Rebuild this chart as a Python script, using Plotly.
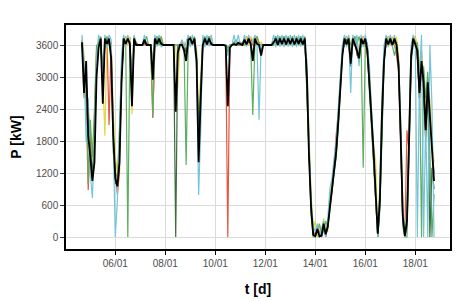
import pandas as pd
import plotly.graph_objects as go

# 2-hourly samples, 2016-01-04 16:00 .. 2016-01-18 18:00 (170 points)
t = pd.date_range("2016-01-04 16:00", periods=170, freq="2h")

# mean power (black)
p_mean = [
    3650, 2700, 3300, 1900,
    1500, 1050, 1400, 3000, 3550, 3720, 2500, 3720, 3620, 3720, 3350, 1900,
    1100, 950, 1400, 2900, 3720, 3620, 3720, 3620, 2450, 3720, 3600, 3600,
    3600, 3600, 3700, 3600, 3600, 3600, 2950, 3720, 3620, 3720, 3620, 3600,
    3600, 3600, 3600, 3600, 3600, 2350, 3450, 3600, 3600, 3500, 3300, 3700,
    3720, 3620, 3720, 3300, 1400, 2600, 3600, 3720, 3610, 3720, 3620, 3600,
    3600, 3600, 3600, 3600, 3600, 3580, 2450, 3550, 3600, 3620, 3600, 3640,
    3620, 3600, 3700, 3610, 3720, 3620, 3300, 3720, 3620, 3600, 3400, 3600,
    3600, 3600, 3600, 3600, 3650, 3720, 3600, 3720, 3620, 3720, 3610, 3720,
    3620, 3720, 3610, 3720, 3620, 3720, 3610, 3720, 3000, 1500, 550, 40,
    20, 150, 10, 30, 250, 50, 200, 550, 900, 1200, 1600, 2150,
    2750, 3400, 3720, 3610, 3720, 3250, 3720, 3620, 3500, 3350, 3720, 3620,
    3720, 3500, 2900, 2200, 1600, 800, 60, 700, 2300, 3300, 3720, 3610,
    3720, 3600, 3720, 3610, 3200, 1900, 400, 20, 300, 1800, 3400, 3720,
    3620, 3500, 2700, 3300, 2900, 2000, 2900, 2300, 1500, 1050,
]

# single turbines
p_cyan = [
    3790, 3300, 1780, 2600,
    1200, 730, 1800, 3300, 3790, 3580, 3000, 3790, 3560, 3790, 3700, 1500,
    0, 700, 1900, 3400, 3790, 3570, 3790, 3600, 3000, 3790, 3620, 3600,
    3600, 3600, 3790, 3600, 3600, 3600, 3300, 3790, 3570, 3790, 3560, 3600,
    3600, 3600, 3600, 3600, 3600, 3600, 3600, 3600, 3700, 3550, 3650, 3790,
    3560, 3790, 3580, 3200, 790, 2000, 3790, 3560, 3790, 3580, 3790, 3600,
    3600, 3600, 3600, 3600, 3600, 3600, 3400, 3600, 3600, 3790, 3600, 3790,
    3600, 3600, 3790, 3570, 3790, 3580, 3650, 3790, 3600, 2200, 3600, 3600,
    3600, 3600, 3600, 3600, 3790, 3560, 3790, 3570, 3790, 3560, 3790, 3570,
    3790, 3560, 3790, 3560, 3790, 3570, 3790, 3580, 3300, 1800, 700, 200,
    100, 250, 0, 150, 300, 0, 350, 900, 1100, 1450, 1800, 2400,
    3000, 3600, 3790, 3560, 3790, 2700, 3790, 3570, 3790, 3200, 3790, 3560,
    3790, 3600, 3200, 2400, 1800, 1000, 0, 1000, 2600, 3600, 3790, 3560,
    3790, 3570, 3790, 3560, 3300, 2200, 600, 0, 500, 2000, 3600, 3790,
    3570, 0, 3000, 3790, 0, 2200, 0, 3600, 2500, 0,
]

p_red = [
    3700, 3000, 2500, 880,
    1800, 1400, 2200, 3500, 3600, 3750, 2800, 3600, 3750, 2100, 3650, 2200,
    1300, 800, 1200, 3000, 3600, 3760, 3600, 3750, 2700, 3600, 3650, 3600,
    3600, 3600, 3600, 3650, 3600, 3600, 2230, 3600, 3760, 3600, 3750, 3600,
    3600, 3600, 3600, 3600, 3600, 3600, 3600, 3600, 3650, 3600, 3500, 3600,
    3760, 3600, 3750, 3400, 1800, 3000, 3600, 3750, 3600, 3760, 3600, 3600,
    3600, 3600, 3600, 3600, 3600, 3600, 0, 3600, 3600, 3650, 3600, 3650,
    3650, 3600, 3600, 3760, 3600, 3750, 3600, 3600, 3760, 3650, 3600, 3600,
    3600, 3600, 3600, 3600, 3600, 3760, 3600, 3750, 3600, 3760, 3600, 3750,
    3600, 3760, 3600, 3750, 3600, 3760, 3600, 3750, 2700, 1300, 500, 100,
    50, 200, 100, 0, 200, 100, 250, 600, 1000, 1300, 1900, 2300,
    2900, 3500, 3600, 3760, 3600, 3300, 3600, 3760, 3400, 3500, 3600, 3760,
    3600, 3400, 2800, 2100, 1500, 900, 100, 800, 2200, 3400, 3600, 3760,
    3600, 3750, 3600, 3400, 3100, 1700, 300, 50, 2000, 1600, 3300, 3600,
    3760, 3300, 2600, 3500, 2700, 1900, 3000, 2200, 1700, 1200,
]

p_yellow = [
    3750, 3400, 2800, 2400,
    2000, 1300, 2000, 3400, 3750, 3600, 3000, 1900, 3750, 3600, 3600, 2400,
    1500, 1200, 1700, 3100, 3600, 3750, 3600, 3750, 2300, 3600, 3600, 3600,
    3600, 3600, 3650, 3600, 3600, 3600, 3400, 3600, 3750, 3600, 3750, 3600,
    3600, 3600, 3600, 3600, 3600, 3600, 2800, 3600, 3600, 3650, 3600, 3650,
    3600, 3750, 3600, 3500, 2200, 3100, 3750, 3600, 3750, 3600, 3750, 3600,
    3600, 3600, 3600, 3600, 3600, 3600, 3500, 3600, 3600, 3600, 3650, 3600,
    3600, 3650, 3600, 3750, 3600, 3750, 3700, 3600, 3750, 3600, 3650, 3600,
    3600, 3600, 3600, 3600, 3650, 3600, 3750, 3600, 3750, 3600, 3750, 3600,
    3750, 3600, 3750, 3600, 3750, 3600, 3750, 3600, 3100, 1700, 800, 150,
    300, 0, 200, 100, 350, 150, 100, 800, 1000, 1400, 1700, 2200,
    2900, 3550, 3600, 3750, 3600, 3500, 3750, 3600, 3750, 3400, 3600, 3750,
    3600, 3550, 3000, 2300, 1700, 1400, 0, 900, 2500, 3500, 3600, 3750,
    3600, 3750, 3600, 3750, 3400, 2000, 500, 0, 400, 1900, 3500, 3600,
    3750, 3600, 3000, 3400, 3100, 2400, 2700, 2600, 1800, 1400,
]

p_green = [
    3600, 2600, 3200, 1000,
    2200, 1500, 2400, 3600, 3600, 3760, 3100, 3600, 3760, 3600, 3500, 1600,
    1200, 1100, 2000, 3200, 3760, 3600, 0, 3600, 2800, 3760, 3650, 3600,
    3600, 3600, 3650, 3760, 3600, 3600, 2250, 3600, 3760, 3600, 3760, 3600,
    3600, 3600, 3600, 3600, 3600, 3600, 3600, 3600, 3600, 3550, 1350, 3600,
    3760, 3600, 3760, 3450, 2000, 2800, 3600, 3760, 3600, 3760, 3600, 3600,
    3600, 3600, 3600, 3600, 3600, 3600, 3550, 3600, 3600, 3650, 3700, 3600,
    3600, 3650, 3600, 3600, 3760, 3600, 2290, 3600, 3760, 3600, 3600, 3600,
    3600, 3600, 3600, 3600, 3600, 3760, 3600, 3760, 3600, 3760, 3600, 3760,
    3600, 3760, 3600, 3760, 3600, 3760, 3600, 3760, 2600, 1200, 400, 0,
    0, 100, 250, 50, 100, 300, 150, 500, 800, 1100, 1500, 2000,
    2600, 3400, 3760, 3600, 3760, 3600, 3600, 3760, 3600, 3760, 3600, 1300,
    3600, 3650, 2700, 2000, 1400, 600, 0, 500, 2100, 3200, 3760, 3600,
    3760, 3600, 3400, 3600, 3300, 1800, 200, 0, 0, 1500, 3200, 3760,
    3600, 3650, 3200, 0, 3200, 2600, 3100, 1600, 0, 800,
]

p_darkgreen = [
    3650, 3100, 2900, 2200,
    1700, 1200, 1700, 3200, 3650, 3700, 2900, 3650, 3700, 3650, 3400, 2000,
    1000, 1000, 1600, 3000, 3650, 3650, 3700, 3650, 2600, 3650, 3600, 3600,
    3600, 3600, 3650, 3600, 3600, 3600, 3100, 3650, 3700, 3650, 3650, 3600,
    3600, 3600, 3600, 3600, 3600, 0, 3600, 3600, 3600, 3600, 3450, 3650,
    3650, 3650, 3650, 3350, 1700, 2700, 3650, 3650, 3650, 3700, 3650, 3600,
    3600, 3600, 3600, 3600, 3600, 3600, 3450, 3600, 3600, 3600, 3600, 3600,
    3600, 3600, 3650, 3650, 3650, 3650, 3400, 3650, 3650, 3600, 3500, 3600,
    3600, 3600, 3600, 3600, 3650, 3650, 3700, 3650, 3650, 3700, 3650, 3650,
    3650, 3700, 3650, 3650, 3700, 3650, 3650, 3650, 2800, 1400, 500, 50,
    0, 150, 50, 0, 200, 0, 200, 600, 850, 1200, 1500, 2100,
    2700, 3450, 3650, 3700, 3650, 3200, 3650, 3650, 3450, 3300, 3650, 3600,
    3650, 3450, 2850, 2150, 1550, 700, 0, 600, 2200, 3300, 3650, 3650,
    3650, 3600, 3650, 3600, 3150, 1850, 300, 0, 200, 1700, 3350, 3650,
    3650, 3400, 2600, 3200, 2700, 1800, 2800, 0, 1300, 900,
]

y_ticks = [0, 600, 1200, 1800, 2400, 3000, 3600]

fig = go.Figure()

series = [
    (p_red, "#E8553D"),
    (p_yellow, "#E3D63F"),
    (p_green, "#5DAE5E"),
    (p_darkgreen, "#3E6B3E"),
    (p_cyan, "#72C4DA"),
]
for vals, col in series:
    fig.add_trace(go.Scatter(x=t, y=vals, mode="lines", line=dict(color=col, width=1.2)))

fig.add_trace(go.Scatter(x=t, y=p_mean, mode="lines", line=dict(color="black", width=1.8)))

# page body adds an 8 px offset, so the figure is sized/margined to compensate
fig.update_layout(
    width=455,
    height=293,
    margin=dict(l=58, r=13, t=17, b=52),
    plot_bgcolor="white",
    paper_bgcolor="white",
    showlegend=False,
    font=dict(family="Liberation Sans, Arial, sans-serif", size=10, color="#4D4D4D"),
)

fig.update_xaxes(
    range=["2016-01-04 00:40", "2016-01-19 09:20"],
    tick0="2016-01-06",
    dtick=2 * 86400000,
    tickformat="%d/%m",
    showgrid=True,
    gridcolor="#DADADA",
    gridwidth=1,
    showline=True,
    linecolor="black",
    linewidth=1.5,
    mirror=True,
    ticks="outside",
    ticklen=4,
    tickcolor="black",
    zeroline=False,
    automargin=False,
    title=dict(text="<b>t [d]</b>", font=dict(size=14, color="black"), standoff=16),
)

fig.update_yaxes(
    range=[-225, 3975],
    tickvals=y_ticks,
    showgrid=True,
    gridcolor="#DADADA",
    gridwidth=1,
    showline=True,
    linecolor="black",
    linewidth=1.5,
    mirror=True,
    ticks="outside",
    ticklen=4,
    tickcolor="#333333",
    zeroline=False,
    automargin=False,
    title=dict(text="<b>P [kW]</b>", font=dict(size=14, color="black"), standoff=13),
)

fig.write_html("out.html")
